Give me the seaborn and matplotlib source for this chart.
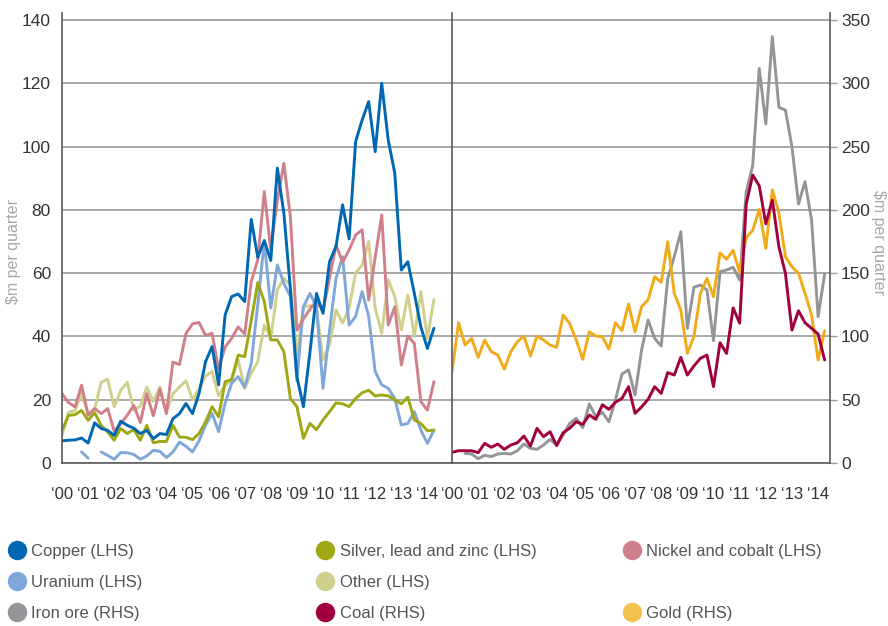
import numpy as np
import pandas as pd
import matplotlib
matplotlib.use("Agg")
import matplotlib.pyplot as plt
from matplotlib.lines import Line2D
import seaborn as sns

nan = np.nan
quarters = 2000 + np.arange(58) / 4.0
year_ticks = list(range(2000, 2015))
year_labels = ["\u2018%02d" % (y % 100) for y in year_ticks]

copper = [7.0, 7.2, 7.3, 7.9, 6.3, 12.7, 10.9, 10.3, 8.7, 13.2, 11.9, 11.0, 9.3, 10.3, 7.7, 9.3,
          9.0, 14.0, 15.6, 18.8, 15.6, 22, 32, 36.8, 24.7, 46.8, 52.6, 53.4, 51, 77,
          65, 70.3, 64, 93.2, 79, 55, 27.3, 17.8, 35, 53.6, 47.3, 63.6, 68.5, 81.6, 70.8,
          101.6, 108.4, 114.2, 98.4, 120, 102, 91.6, 61, 63.6, 53.6, 43, 36.2, 42.6]
silver = [10.3, 15, 15.3, 16.6, 13.5, 15.9, 11.9, 9.8, 7.2, 10.9, 9.3, 10.6, 7.2, 11.9, 6.4, 6.8,
          6.8, 11.9, 8.2, 8.1, 7.4, 9.3, 13, 17.8, 14.6, 25.7, 26.4, 34.1, 33.6, 45,
          57, 51, 38.9, 38.9, 35.2, 20.4, 17.8, 7.8, 12.5, 10.5, 13.6, 16.2, 19, 18.7, 17.8,
          20.4, 22.2, 23, 21.2, 21.5, 21.2, 19.9, 18.7, 20.8, 13.6, 12.5, 10.2, 10.4]
nickel = [21.9, 19.1, 17.7, 24.6, 15.1, 17.2, 15.6, 17.2, 10, 12.4, 15.1, 18.2, 12.8, 21.9, 14.9, 23.3,
          15.6, 31.9, 31.1, 40.9, 44, 44.4, 40.3, 41, 29.6, 36.7, 39.4, 43, 40.8, 57.3,
          64.2, 85.8, 67.3, 83, 94.7, 77.9, 42, 45.5, 48.6, 51.3, 48, 58.4, 68.9, 63.4, 67.3,
          72, 73.7, 51.5, 65, 78.4, 43.6, 49.4, 31, 40.1, 37.8, 19.4, 16.7, 25.7]
uranium = [nan, nan, nan, 3.5, 1.5, nan, 3.5, 2.4, 1.2, 3.3, 3.2, 2.7, 1.2, 2.2, 4, 3.7,
           1.7, 3.5, 6.6, 5.3, 3.5, 7, 12, 15.7, 9.9, 18.9, 25.2, 27.3, 23.9, 31.5,
           50, 70, 49, 62.6, 56.8, 52.6, 26, 49.4, 53.6, 49.4, 23.6, 42, 58.4, 65.2, 43.6,
           46.3, 54.2, 46.3, 28.9, 24.7, 23.6, 20.4, 12, 12.5, 16.2, 10.4, 6.2, 10.4]
other = [8.7, 16, 16.6, 22, 15.6, 17, 25.5, 26.5, 17.7, 23, 25.5, 16.6, 18, 24, 19.5, 24,
         16, 21.9, 24, 26, 20, 23.3, 27.5, 28.9, 21.2, 24.6, 26.2, 32.6, 23.6, 28.3,
         32, 43.6, 39.4, 54.7, 58.4, 56.3, 34.1, 49.4, 49.7, 49, 32.6, 37.3, 48.4, 44.2, 49,
         60, 62.6, 70, 48.9, 41, 57.9, 52.6, 42, 53.1, 40, 54.2, 39.4, 51.7]

iron_ore = [nan, nan, 7.6, 7.1, 3.4, 6.1, 5, 7.1, 7.6, 7.1, 9.7, 15, 11.6, 10.8, 14.2, 18.7,
            14.2, 22.1, 31.3, 35.3, 27.9, 46.6, 36.6, 40, 32.6, 49.8, 70.3, 73.5, 53.7, 89.3,
            113, 98.5, 92.4, 145.9, 163, 182.7, 106.4, 138.8, 140.6, 136.7, 96.6, 151.1, 152.5, 154.6, 144.5,
            214.3, 235, 311.7, 267.8, 336.8, 281, 278.8, 249.9, 204.6, 222.2, 192, 115.6, 149.3]
coal = [8.4, 9.7, 9.7, 9.7, 8.2, 15.5, 12.4, 15, 10.8, 14.2, 16, 21.3, 13.4, 27.4, 20.8, 24.7,
        13.7, 24, 27.4, 32.6, 30.5, 37.9, 34.5, 46, 42.4, 48, 51, 60.3, 39.2, 44.3,
        50.3, 60.3, 55, 71.4, 69.5, 83.5, 69.5, 76.6, 82.7, 85.3, 60.3, 95, 86.6, 122.5, 110.5,
        204.5, 227.5, 219, 189, 207.7, 170.9, 149.8, 105, 120.3, 110.8, 106.4, 101.9, 81.4]
gold = [72, 110.8, 93.2, 98.5, 83.5, 97.2, 88, 85.3, 74.2, 88, 95.8, 100.3, 84.5, 100.3, 97.2, 93.2,
        91.4, 116.9, 110.3, 97.2, 81.9, 103.7, 100.3, 99.8, 90, 110.8, 104.7, 125.6, 103.7, 123.5,
        129, 147.2, 142.7, 174.8, 134, 120.9, 86.6, 99.8, 134, 145.9, 131.4, 166, 161, 168, 150.5,
        178, 184, 200.4, 169.6, 215.8, 197.5, 163, 155, 150, 134, 117, 81.4, 104.5]

lhs_names = ["Other (LHS)", "Uranium (LHS)", "Nickel and cobalt (LHS)",
             "Silver, lead and zinc (LHS)", "Copper (LHS)"]
lhs_values = [other, uranium, nickel, silver, copper]
rhs_names = ["Iron ore (RHS)", "Gold (RHS)", "Coal (RHS)"]
rhs_values = [iron_ore, gold, coal]

line_colors = {
    "Copper (LHS)": "#0068B3",
    "Silver, lead and zinc (LHS)": "#A0A714",
    "Nickel and cobalt (LHS)": "#D0808B",
    "Uranium (LHS)": "#80A7DA",
    "Other (LHS)": "#CFD08D",
    "Iron ore (RHS)": "#939598",
    "Coal (RHS)": "#A0003E",
    "Gold (RHS)": "#EFAB1A",
}
legend_colors = dict(line_colors)
legend_colors["Gold (RHS)"] = "#F2C14E"


def long_frame(names, values):
    rows = []
    for name, vals in zip(names, values):
        seg = 0
        prev_nan = True
        for q, v in zip(quarters, vals):
            if np.isnan(v):
                prev_nan = True
                continue
            if prev_nan:
                seg += 1
                prev_nan = False
            rows.append({"quarter": q, "value": v, "series": name, "seg": f"{name}-{seg}"})
    return pd.DataFrame(rows)


sns.set_style("white")
plt.rcParams["font.family"] = ["Liberation Sans", "DejaVu Sans"]

W, H = 888, 626
fig = plt.figure(figsize=(W / 100, H / 100), dpi=100)


def rect(x0, y0, x1, y1):
    return [x0 / W, 1 - y1 / H, (x1 - x0) / W, (y1 - y0) / H]


axL = fig.add_axes(rect(62, 13, 452, 463))
axR = fig.add_axes(rect(452, 13, 830, 463))

dfL = long_frame(lhs_names, lhs_values)
dfR = long_frame(rhs_names, rhs_values)

sns.lineplot(data=dfL, x="quarter", y="value", hue="series", units="seg", estimator=None,
             hue_order=lhs_names, palette=line_colors, linewidth=2.1, ax=axL, legend=False)
sns.lineplot(data=dfR, x="quarter", y="value", hue="series", units="seg", estimator=None,
             hue_order=rhs_names, palette=line_colors, linewidth=2.1, ax=axR, legend=False)

tick_col = "#333333"
spine_col = "#5A5A5A"
grid_col = "#9A9A9A"
fs = 12

axL.set_ylim(0, 140 * 450 / 443)
axR.set_ylim(0, 350 * 450 / 443)
axL.set_xlim(2000, 2000 + 390 / 26.1)
axR.set_xlim(2000, 2000 + 378 / 26.15)

axL.set_yticks(range(0, 141, 20))
axR.set_yticks(range(0, 351, 50))
for ax in (axL, axR):
    ax.set_xticks(year_ticks)
    ax.set_xticklabels(year_labels)
    ax.set_xlabel("")
    ax.set_ylabel("")
    ax.grid(axis="y", color=grid_col, linewidth=1.2)
    ax.grid(axis="x", visible=False)
    ax.set_axisbelow(True)
    ax.spines["top"].set_visible(False)
    ax.tick_params(axis="x", direction="out", length=15, width=1, color=grid_col,
                   labelsize=fs, labelcolor=tick_col, pad=2)
    ax.tick_params(axis="y", direction="out", length=5, width=1, color=grid_col,
                   labelsize=fs + 0.5, labelcolor=tick_col, pad=3)
    for s in ("left", "right", "bottom"):
        ax.spines[s].set_color(spine_col)
        ax.spines[s].set_linewidth(1.2)

axL.spines["right"].set_visible(False)
axR.yaxis.tick_right()
axR.tick_params(axis="y", left=False, right=True)

fig.text(14 / W, 1 - 252 / H, "$m per quarter", color="#A8A8A8", fontsize=11.5,
         rotation=90, ha="center", va="center")
fig.text(878 / W, 1 - 242 / H, "$m per quarter", color="#A8A8A8", fontsize=11.5,
         rotation=-90, ha="center", va="center")

# legend in three columns
columns = [
    (0.010, ["Copper (LHS)", "Uranium (LHS)", "Iron ore (RHS)"]),
    (0.357, ["Silver, lead and zinc (LHS)", "Other (LHS)", "Coal (RHS)"]),
    (0.702, ["Nickel and cobalt (LHS)", None, "Gold (RHS)"]),
]
for x0, names in columns:
    handles, labels = [], []
    for n in names:
        if n is None:
            handles.append(Line2D([], [], linestyle="none", marker=None))
            labels.append(" ")
        else:
            handles.append(Line2D([], [], linestyle="none", marker="o", markersize=14,
                                  markerfacecolor=legend_colors[n], markeredgewidth=0))
            labels.append(n)
    leg = fig.legend(handles, labels, loc="upper left", bbox_to_anchor=(x0, 1 - 544 / H),
                     frameon=False, fontsize=fs, handlelength=1.0, handletextpad=0.35,
                     labelspacing=0.95, borderpad=0, borderaxespad=0)
    for t in leg.get_texts():
        t.set_color("#555555")

fig.savefig("out.png", dpi=100)
